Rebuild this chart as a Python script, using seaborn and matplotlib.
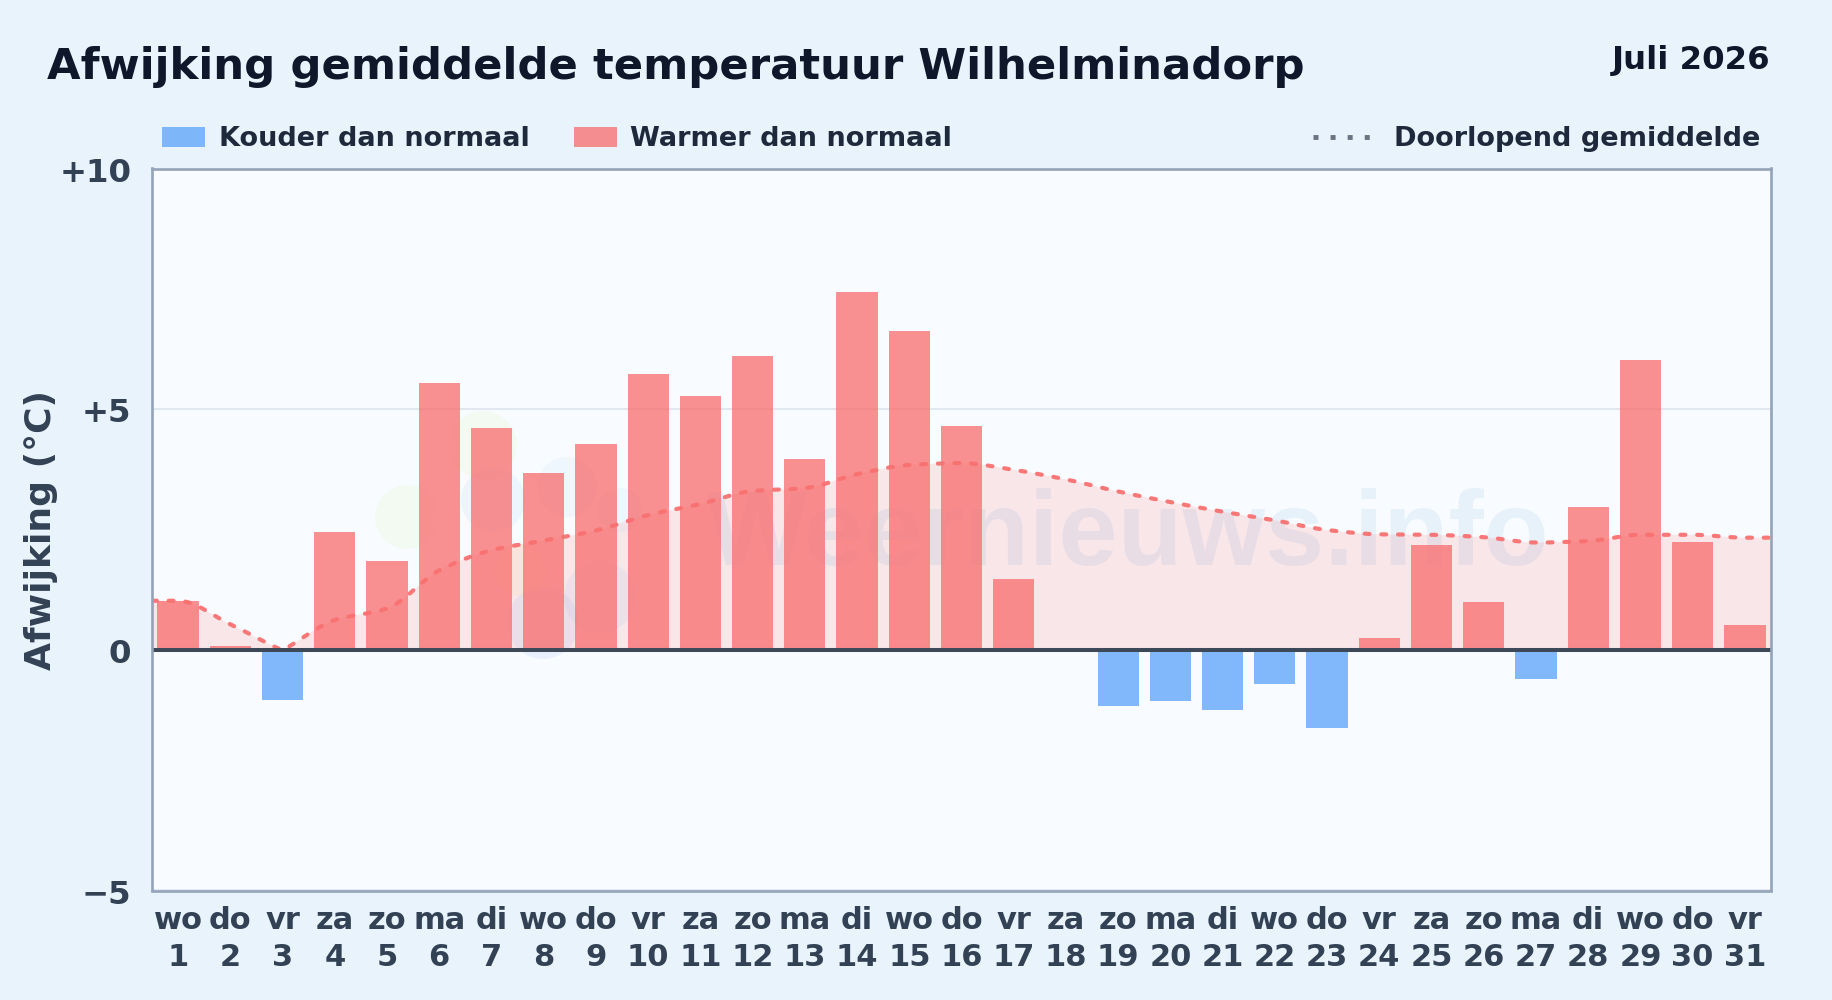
# plot.py
# Afwijking gemiddelde temperatuur per dag, juli 2026

import numpy as np
import pandas as pd
import seaborn as sns
import matplotlib
matplotlib.use("Agg")
import matplotlib.pyplot as plt
from matplotlib.lines import Line2D
from matplotlib.patches import Circle, PathPatch
from matplotlib.path import Path
from matplotlib.transforms import IdentityTransform, ScaledTranslation

# =============================
# Data
# =============================
weekdays = ["wo", "do", "vr", "za", "zo", "ma", "di", "wo", "do", "vr", "za",
            "zo", "ma", "di", "wo", "do", "vr", "za", "zo", "ma", "di", "wo",
            "do", "vr", "za", "zo", "ma", "di", "wo", "do", "vr"]
days = list(range(1, 32))
deviation = [1.02, 0.08, -1.05, 2.45, 1.85, 5.55, 4.60, 3.67, 4.28, 5.73, 5.27,
             6.10, 3.96, 7.44, 6.63, 4.64, 1.48, 0.00, -1.17, -1.07, -1.26, -0.70,
             -1.63, 0.24, 2.17, 1.00, -0.60, 2.97, 6.03, 2.24, 0.51]
running_mean = [1.02, 0.53, 0.00, 0.62, 0.86, 1.65, 2.07, 2.27, 2.48, 2.80, 3.03,
                3.30, 3.36, 3.65, 3.84, 3.88, 3.74, 3.54, 3.29, 3.07, 2.87, 2.69,
                2.49, 2.40, 2.39, 2.34, 2.23, 2.26, 2.39, 2.39, 2.33]
y_ticks = [-5, 0, 5, 10]
y_tick_labels = ["\u22125", "0", "+5", "+10"]
cold_label = "Kouder dan normaal"
warm_label = "Warmer dan normaal"
mean_label = "Doorlopend gemiddelde"

# =============================
# Colours
# =============================
BLUE = "#60a5fa"
RED = "#f87171"
FIG_BG = "#e8f3fc"
AX_BG = "#f8fbff"
SLATE = "#334155"

sns.set_theme(style="white")
plt.rcParams["font.family"] = "DejaVu Sans"
plt.rcParams["lines.scale_dashes"] = False

df = pd.DataFrame({
    "label": [f"{w}\n{d}" for w, d in zip(weekdays, days)],
    "afwijking": deviation,
    "soort": [cold_label if v < 0 else warm_label for v in deviation],
})

W, H = 1832, 1000
fig = plt.figure(figsize=(W / 100, H / 100), dpi=100, facecolor=FIG_BG)
ax = fig.add_axes([152 / W, 1 - 890.5 / H, (1771 - 152) / W, (890.5 - 168.5) / H])
ax.set_facecolor(AX_BG)

# =============================
# Watermark (logo blobs + text)
# =============================
blobs = [(407, 517, 32, "#bef264"), (483, 445, 34, "#bef264"), (493, 500, 32, "#60a5fa"),
         (567, 487, 30, "#7dd3fc"), (620, 510, 22, "#7dd3fc"), (600, 597, 36, "#60a5fa"),
         (543, 623, 36, "#3b82f6"), (520, 570, 26, "#fde047")]
for bx, by, br, bc in blobs:
    ax.add_patch(Circle((bx, H - by), br, transform=IdentityTransform(), color=bc,
                        alpha=0.08, lw=0, zorder=0.8, clip_on=False))
ax.text(707 / W, 1 - 565 / H, "Weernieuws.info", family="Liberation Sans", fontweight="bold",
        fontsize=76.5, color="#2b7fc4", alpha=0.08, ha="left", va="baseline", zorder=1.2,
        transform=fig.transFigure)


# =============================
# Smooth running mean (monotone bezier through the read values)
# =============================
def monotone_verts(values):
    y = np.asarray(values, dtype=float)
    d = np.diff(y)
    t = np.zeros_like(y)
    handle = np.full_like(y, 1 / 3)
    for i in range(1, len(y) - 1):
        if d[i - 1] * d[i] > 0:
            t[i] = 2 * d[i - 1] * d[i] / (d[i - 1] + d[i])
        elif abs(d[i] - d[i - 1]) > 0.5:
            handle[i] = 0.08    # sharp turn, as on day 3
    verts = [(-0.5, y[0]), (0, y[0])]
    codes = [Path.MOVETO, Path.LINETO]
    for i in range(len(y) - 1):
        verts += [(i + handle[i], y[i] + t[i] * handle[i]),
                  (i + 1 - handle[i + 1], y[i + 1] - t[i + 1] * handle[i + 1]),
                  (i + 1, y[i + 1])]
        codes += [Path.CURVE4] * 3
    verts.append((len(y) - 0.5, y[-1]))
    codes.append(Path.LINETO)
    return verts, codes


verts, codes = monotone_verts(running_mean)

# fill under the line
fill_verts = verts + [(len(days) - 0.5, 0), (-0.5, 0), (-0.5, running_mean[0])]
fill_codes = codes + [Path.LINETO, Path.LINETO, Path.CLOSEPOLY]
ax.add_patch(PathPatch(Path(fill_verts, fill_codes), facecolor=RED, alpha=0.15, lw=0, zorder=1.5))

# =============================
# Bars
# =============================
sns.barplot(data=df, x="label", y="afwijking", hue="soort",
            hue_order=[cold_label, warm_label],
            palette={cold_label: BLUE, warm_label: RED},
            dodge=False, width=0.79, saturation=1, alpha=0.78, linewidth=0,
            legend=True, zorder=2, ax=ax)

ax.add_patch(PathPatch(Path(verts, codes), facecolor="none", edgecolor=RED, lw=3,
                       linestyle=(0, (3.5, 8.5)), capstyle="round", alpha=0.95, zorder=3))
ax.axhline(0, color="#3d4859", lw=2.9, zorder=4)

# =============================
# Axes
# =============================
ax.set_xlim(-0.5, len(days) - 0.5)
ax.set_ylim(-5, 10)
ax.set_yticks(y_ticks)
ax.set_yticklabels(y_tick_labels, fontsize=23.3, fontweight="bold", color=SLATE)
ax.tick_params(axis="y", length=0, pad=15)
ax.tick_params(axis="x", length=0, pad=11)
for lab in ax.get_xticklabels():
    lab.set_fontsize(22)
    lab.set_fontweight("bold")
    lab.set_color(SLATE)
    lab.set_linespacing(1.35)
nudge = ScaledTranslation(0, -1 / 100, fig.dpi_scale_trans)
for lab in ax.get_yticklabels():
    lab.set_transform(lab.get_transform() + nudge)
ax.set_xlabel("")
ax.set_ylabel("")
ax.set_axisbelow(True)
ax.yaxis.grid(True, color="#e2e8f0", lw=1.5)
for side in ax.spines.values():
    side.set_color("#94a3b8")
    side.set_linewidth(1.9)
    side.set_zorder(5)

fig.text(41 / W, 1 - 530 / H, "Afwijking (\u00b0C)", rotation=90, fontsize=26, fontweight="bold",
         color=SLATE, ha="center", va="center")

# =============================
# Title
# =============================
fig.text(47 / W, 1 - 79 / H, "Afwijking gemiddelde temperatuur Wilhelminadorp",
         fontsize=31.2, fontweight="bold", color="#0f172a", ha="left", va="baseline")
fig.text(1770 / W, 1 - 69 / H, "Juli 2026", fontsize=23.3, fontweight="bold",
         color="#0f172a", ha="right", va="baseline")

# =============================
# Legends
# =============================
handles, labels = ax.get_legend_handles_labels()
ax.legend_.remove()
leg1 = fig.legend(handles, labels, loc="center left", bbox_to_anchor=(162 / W, 1 - 139.5 / H),
                  ncol=2, frameon=False, handlelength=1.6, handleheight=0.72,
                  handletextpad=0.5, columnspacing=1.62, borderpad=0, borderaxespad=0,
                  prop={"size": 19.5, "weight": "bold"}, labelcolor="#1e293b")
mean_handle = Line2D([], [], color="#6b7280", lw=3.5, linestyle=(0, (3.6, 8.7)), dash_capstyle="butt")
leg2 = fig.legend([mean_handle], [mean_label], loc="center right", bbox_to_anchor=(1760 / W, 1 - 139.5 / H),
                  frameon=False, handlelength=2.1, handletextpad=0.86, borderpad=0, borderaxespad=0,
                  prop={"size": 19.5, "weight": "bold"}, labelcolor="#1e293b")

fig.savefig("out.png", dpi=100, facecolor=FIG_BG)
